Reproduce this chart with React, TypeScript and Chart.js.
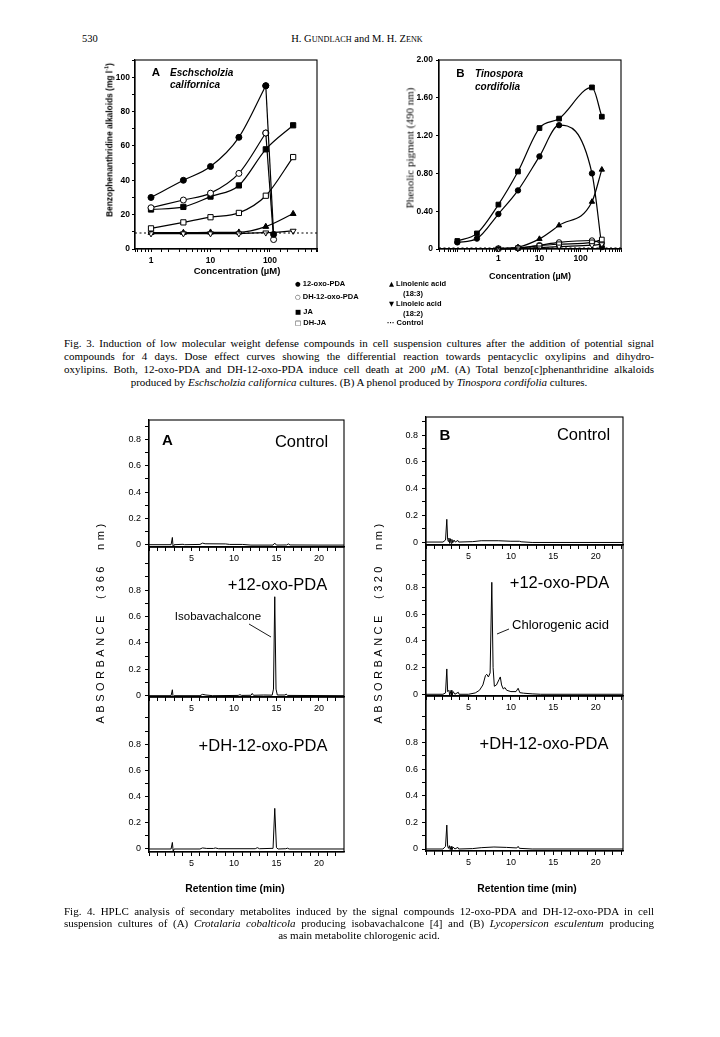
import React, { useEffect, useRef } from "react";
import { Chart, registerables } from "chart.js";

Chart.register(...registerables);

const SANS = "'Liberation Sans', Arial, Helvetica, sans-serif";
const SERIF = "'Liberation Serif', 'Times New Roman', Times, serif";

// ---------- Fig. 3A : Eschscholzia californica (mg/l alkaloids) ----------
const concA_short = [1, 3.5, 10, 30, 85, 115];
const concA_long = [1, 3.5, 10, 30, 85, 245];
const a_oxoPDA = [30, 40, 48, 65, 95, 8.5];
const a_dhOxoPDA = [24, 28.5, 32.5, 44, 67.5, 5.5];
const a_JA = [23, 24.5, 30.5, 37, 58, 72];
const a_dhJA = [12, 15.5, 18.5, 21, 31, 53.5];
const a_linolenic = [9.5, 9.5, 9.7, 9.7, 13, 20.5];
const a_linoleic = [9, 9, 9, 9, 9.5, 10.5];
const a_control = 9.3;

// ---------- Fig. 3B : Tinospora cordifolia (phenolic pigment, 490 nm) ----------
const concB_full = [0.1, 0.3, 1, 3, 10, 30, 190, 330];
const concB_short = [1, 3, 10, 30, 190, 330];
const b_oxoPDA = [0.07, 0.11, 0.37, 0.62, 0.98, 1.31, 0.8, 0.02];
const b_JA = [0.085, 0.165, 0.47, 0.82, 1.28, 1.38, 1.71, 1.4];
const b_linolenic = [0.005, 0.02, 0.107, 0.25, 0.5, 0.84];
const b_dhOxoPDA = [0.005, 0.01, 0.04, 0.07, 0.09, 0.06];
const b_dhJA = [0.003, 0.01, 0.035, 0.05, 0.07, 0.1];
const b_linoleic = [0, 0.005, 0.015, 0.025, 0.04, 0.05];
const b_control = 0.01;

// ---------- tick labels ----------
const logTickLabels = [1, 10, 100];
const aYTickLabels = [0, 20, 40, 60, 80, 100];
const bYTickLabels = [0, 0.4, 0.8, 1.2, 1.6, 2.0];
const hplcXTickLabels = [5, 10, 15, 20];
const hplcYTickLabels = [0, 0.2, 0.4, 0.6, 0.8];

// ---------- Fig. 4 chromatograms: [retention time (min), absorbance] ----------
const hplcA_control = [
  [0, 0], [2.6, 0], [2.75, 0.055], [2.85, -0.03], [2.95, 0], [4.0, 0.003], [4.2, 0],
  [6.0, 0.002], [6.3, 0.012], [6.6, 0.007], [9.0, 0.006], [9.5, 0.002], [11, 0.002],
  [12, -0.003], [14.6, -0.003], [14.8, 0.012], [15.0, -0.003], [16.2, -0.002],
  [16.4, 0.006], [16.6, -0.002], [20, -0.003], [23, -0.003],
];
const hplcA_oxoPDA = [
  [0, 0], [2.6, 0], [2.75, 0.045], [2.85, -0.02], [2.95, 0], [6.0, 0], [6.3, 0.01],
  [6.7, 0.005], [7.5, 0], [10.5, 0.002], [10.7, 0.008], [10.9, 0.002], [12.0, 0.003],
  [12.15, 0.017], [12.3, 0.003], [13.5, 0.005], [14.5, 0.004], [14.65, 0.05],
  [14.8, 0.75], [14.95, 0.05], [15.1, 0.005], [16, 0.005], [16.15, 0.012],
  [16.3, 0.002], [23, 0],
];
const hplcA_dhOxoPDA = [
  [0, 0], [2.6, 0], [2.75, 0.05], [2.85, -0.02], [2.95, 0], [6.0, 0], [6.3, 0.008],
  [6.8, 0.004], [7.6, 0.004], [7.8, 0.008], [8.2, 0.002], [12.5, 0.002], [12.75, 0.01],
  [13, 0.002], [14.6, 0.005], [14.8, 0.31], [15.0, 0.01], [15.2, 0], [16.1, 0.002],
  [16.3, 0.006], [16.5, 0], [23, 0],
];
const hplcB_control = [
  [0, 0], [2.0, 0], [2.3, 0.015], [2.45, 0.17], [2.55, 0.02], [2.62, 0.005], [2.7, 0.03],
  [2.78, -0.01], [2.88, 0.025], [2.96, -0.01], [3.05, 0.02], [3.15, -0.005], [3.3, 0.015],
  [3.45, 0], [3.75, 0.012], [3.85, 0], [5.5, 0.003], [6.5, 0.01], [8.5, 0.01],
  [10, 0.006], [11, 0.006], [11.2, 0.002], [12.5, -0.003], [23.2, -0.003],
];
const hplcB_oxoPDA = [
  [0, 0], [2.0, 0], [2.3, 0.01], [2.45, 0.19], [2.55, 0.02], [2.7, 0.03], [2.8, -0.01],
  [2.95, 0.03], [3.05, -0.01], [3.2, 0.02], [3.4, 0], [3.8, 0.015], [3.9, 0], [5.0, 0],
  [5.8, 0.01], [6.3, 0.03], [6.7, 0.07], [7.0, 0.14], [7.15, 0.15], [7.35, 0.13],
  [7.55, 0.16], [7.75, 0.84], [7.9, 0.2], [8.05, 0.06], [8.3, 0.07], [8.6, 0.11],
  [8.75, 0.13], [8.9, 0.07], [9.1, 0.04], [9.3, 0.05], [9.5, 0.03], [10.0, 0.02],
  [10.6, 0.02], [10.85, 0.045], [11.05, 0.012], [11.5, 0.008], [12.5, 0.003],
  [13.5, 0], [23.2, 0],
];
const hplcB_dhOxoPDA = [
  [0, 0], [2.0, 0], [2.3, 0.02], [2.45, 0.18], [2.55, 0.02], [2.65, 0.005], [2.75, 0.025],
  [2.85, -0.005], [2.95, 0.02], [3.05, -0.005], [3.2, 0.015], [3.4, 0], [3.75, 0.012],
  [3.85, 0], [5.5, 0.003], [6.5, 0.01], [8, 0.015], [9.5, 0.012], [10.7, 0.008],
  [10.85, 0.02], [11.0, 0.005], [12.5, 0], [23.2, 0],
];

// ---------- helpers ----------
const findLabel = (v: number, list: number[]) =>
  list.find((L) => Math.abs(v - L) < 1e-6 * Math.max(1, Math.abs(L)));

const framePlugin = {
  id: "frame",
  afterDatasetsDraw(chart: any) {
    const { ctx, chartArea: a } = chart;
    ctx.save();
    ctx.strokeStyle = "#000";
    ctx.lineWidth = 1.1;
    ctx.strokeRect(a.left, a.top, a.right - a.left, a.bottom - a.top);
    ctx.restore();
  },
};

const MARK: any = {
  filledCircle: { pointStyle: "circle", pointRadius: 3, pointBackgroundColor: "#000" },
  openCircle: { pointStyle: "circle", pointRadius: 3, pointBackgroundColor: "#fff" },
  filledSquare: { pointStyle: "rect", pointRadius: 3.7, pointBackgroundColor: "#000" },
  openSquare: { pointStyle: "rect", pointRadius: 3.7, pointBackgroundColor: "#fff" },
  filledTri: { pointStyle: "triangle", pointRadius: 3.4, pointBackgroundColor: "#000" },
  openTriDown: { pointStyle: "triangle", pointRadius: 3.4, pointBackgroundColor: "#fff", pointRotation: 180 },
};

function curveSets(xs: number[], ys: number[], mark: any, straightLast: boolean, scale = 1) {
  const pts = xs.map((x, i) => ({ x, y: ys[i] }));
  const base = {
    borderColor: "#000",
    borderWidth: 1.2,
    pointBorderColor: "#000",
    pointBorderWidth: 1,
    fill: false,
    clip: false,
    ...mark,
    pointRadius: mark.pointRadius * scale,
  };
  if (!straightLast) return [{ ...base, data: pts, cubicInterpolationMode: "monotone" }];
  return [
    { ...base, data: pts.slice(-2), tension: 0 },
    { ...base, data: pts.slice(0, -1), cubicInterpolationMode: "monotone" },
  ];
}

function controlSet(xMin: number, xMax: number, value: number) {
  return {
    data: [{ x: xMin, y: value }, { x: xMax, y: value }],
    borderColor: "#000",
    borderWidth: 1.2,
    borderDash: [2, 2.5],
    pointRadius: 0,
    fill: false,
    clip: false,
  };
}

const blackGrid = (len: number) => ({
  drawOnChartArea: false,
  drawTicks: true,
  tickLength: len,
  tickColor: "#000",
  color: "#000",
});

const A_X = { min: 0.538, max: 617 };
const B_X = { min: 0.0358, max: 967 };

function fig3AConfig() {
  return {
    type: "line",
    data: {
      datasets: [
        ...curveSets(concA_short, a_oxoPDA, MARK.filledCircle, true),
        ...curveSets(concA_short, a_dhOxoPDA, MARK.openCircle, true),
        ...curveSets(concA_long, a_JA, MARK.filledSquare, false),
        ...curveSets(concA_long, a_dhJA, MARK.openSquare, false),
        controlSet(A_X.min, A_X.max, a_control),
        ...curveSets(concA_long, a_linoleic, MARK.openTriDown, false),
        ...curveSets(concA_long, a_linolenic, MARK.filledTri, false),
      ],
    },
    options: {
      animation: false,
      responsive: false,
      events: [],
      plugins: { legend: { display: false }, tooltip: { enabled: false } },
      scales: {
        x: {
          type: "logarithmic",
          min: A_X.min,
          max: A_X.max,
          ticks: {
            autoSkip: false,
            maxRotation: 0,
            padding: 4,
            color: "#000",
            font: { family: SANS, size: 8.5, weight: "bold" },
            callback: (v: number) => {
              const m = findLabel(v, logTickLabels);
              return m === undefined ? "" : String(m);
            },
          },
          grid: blackGrid(3),
          border: { color: "#000", width: 1.2 },
        },
        y: {
          type: "linear",
          min: 0,
          max: 110,
          ticks: {
            stepSize: 10,
            autoSkip: false,
            padding: 2,
            color: "#000",
            font: { family: SANS, size: 8.5, weight: "bold" },
            callback: (v: number) => {
              const m = findLabel(v, aYTickLabels);
              return m === undefined ? "" : String(m);
            },
          },
          grid: blackGrid(3),
          border: { color: "#000", width: 1.2 },
        },
      },
    },
    plugins: [framePlugin],
  };
}

function fig3BConfig() {
  const s = 0.9;
  return {
    type: "line",
    data: {
      datasets: [
        controlSet(B_X.min, B_X.max, b_control),
        ...curveSets(concB_short, b_linoleic, MARK.openTriDown, false, s),
        ...curveSets(concB_short, b_dhJA, MARK.openSquare, false, s),
        ...curveSets(concB_short, b_dhOxoPDA, MARK.openCircle, false, s),
        ...curveSets(concB_short, b_linolenic, MARK.filledTri, false, s),
        ...curveSets(concB_full, b_oxoPDA, MARK.filledCircle, false, s),
        ...curveSets(concB_full, b_JA, MARK.filledSquare, false, s),
      ],
    },
    options: {
      animation: false,
      responsive: false,
      events: [],
      plugins: { legend: { display: false }, tooltip: { enabled: false } },
      scales: {
        x: {
          type: "logarithmic",
          min: B_X.min,
          max: B_X.max,
          ticks: {
            autoSkip: false,
            maxRotation: 0,
            padding: 2,
            color: "#000",
            font: { family: SANS, size: 8.5, weight: "bold" },
            callback: (v: number) => {
              const m = findLabel(v, logTickLabels);
              return m === undefined ? "" : String(m);
            },
          },
          grid: blackGrid(3),
          border: { color: "#000", width: 1.2 },
        },
        y: {
          type: "linear",
          min: 0,
          max: 2,
          ticks: {
            stepSize: 0.4,
            autoSkip: false,
            padding: 3,
            color: "#000",
            font: { family: SANS, size: 8.5, weight: "bold" },
            callback: (v: number) => {
              const m = findLabel(v, bYTickLabels);
              return m === undefined ? "" : m === 0 ? "0" : m.toFixed(2);
            },
          },
          grid: blackGrid(3),
          border: { color: "#000", width: 1.2 },
        },
      },
    },
    plugins: [framePlugin],
  };
}

function hplcConfig(trace: number[][], yMin: number, yMax: number, xMax: number) {
  return () => ({
    type: "line",
    data: {
      datasets: [
        {
          data: trace.map(([x, y]) => ({ x, y })),
          borderColor: "#000",
          borderWidth: 1,
          pointRadius: 0,
          tension: 0,
          fill: false,
        },
      ],
    },
    options: {
      animation: false,
      responsive: false,
      events: [],
      plugins: { legend: { display: false }, tooltip: { enabled: false } },
      scales: {
        x: {
          type: "linear",
          min: 0,
          max: xMax,
          ticks: {
            stepSize: 1,
            autoSkip: false,
            includeBounds: false,
            maxRotation: 0,
            padding: 2,
            color: "#000",
            font: { family: SANS, size: 9 },
            callback: (v: number) => {
              const m = findLabel(v, hplcXTickLabels);
              return m === undefined ? "" : String(m);
            },
          },
          grid: {
            drawOnChartArea: false,
            tickLength: 4,
            tickColor: (ctx: any) => {
              const v = ctx.tick ? ctx.tick.value : 0;
              return Math.abs(v - Math.round(v)) < 1e-6 ? "#000" : "rgba(0,0,0,0)";
            },
          },
          border: { color: "#000", width: 1.2 },
        },
        y: {
          type: "linear",
          min: yMin,
          max: yMax,
          ticks: {
            stepSize: 0.1,
            autoSkip: false,
            includeBounds: false,
            padding: 4,
            color: "#000",
            font: { family: SANS, size: 9 },
            callback: (v: number) => {
              const m = findLabel(v, hplcYTickLabels);
              return m === undefined ? "" : m === 0 ? "0" : m.toFixed(1);
            },
          },
          grid: {
            drawOnChartArea: false,
            tickLength: 4,
            tickColor: (ctx: any) => {
              const v = ctx.tick ? ctx.tick.value : -1;
              const ok = v > -1e-6 && v < 1.05 && Math.abs(v * 10 - Math.round(v * 10)) < 1e-6;
              return ok ? "#000" : "rgba(0,0,0,0)";
            },
          },
          border: { color: "#000", width: 1.2 },
        },
      },
    },
    plugins: [framePlugin],
  });
}

type Box = { x: number; y: number; w: number; h: number };
type Plot = { left: number; top: number; right: number; bottom: number };

function ChartPanel({ box, plot, config }: { box: Box; plot: Plot; config: () => any }) {
  const ref = useRef<HTMLCanvasElement | null>(null);
  useEffect(() => {
    if (!ref.current) return;
    const cfg = config();
    const yW = plot.left - box.x;
    const xH = box.y + box.h - plot.bottom;
    cfg.options.layout = {
      padding: { top: plot.top - box.y, right: box.x + box.w - plot.right, bottom: 0, left: 0 },
    };
    const zero = (s: any) => {
      s.paddingLeft = 0;
      s.paddingRight = 0;
      s.paddingTop = 0;
      s.paddingBottom = 0;
    };
    cfg.options.scales.x.afterFit = (s: any) => {
      s.height = xH;
      zero(s);
    };
    cfg.options.scales.y.afterFit = (s: any) => {
      s.width = yW;
      zero(s);
    };
    const chart = new Chart(ref.current, cfg);
    return () => chart.destroy();
  }, []);
  return (
    <canvas
      ref={ref}
      width={box.w}
      height={box.h}
      style={{ position: "absolute", left: box.x, top: box.y, width: box.w, height: box.h }}
    />
  );
}

function Txt({
  x, y, children, size = 10, weight = 400, family = SANS, italic = false,
  align = "center", rotate = 0, extra = {},
}: any) {
  const tx = align === "center" ? "-50%" : align === "right" ? "-100%" : "0";
  return (
    <div
      style={{
        position: "absolute",
        left: x,
        top: y,
        transform: `translate(${tx},-50%)` + (rotate ? ` rotate(${rotate}deg)` : ""),
        fontFamily: family,
        fontSize: size,
        fontWeight: weight,
        fontStyle: italic ? "italic" : "normal",
        lineHeight: 1,
        whiteSpace: "pre",
        color: "#000",
        ...extra,
      }}
    >
      {children}
    </div>
  );
}

function CapLine({ y, children, center = false }: any) {
  return (
    <div
      style={{
        position: "absolute",
        left: 64,
        width: 590,
        top: y,
        transform: "translateY(-50%)",
        fontFamily: SERIF,
        fontSize: 11,
        lineHeight: 1,
        whiteSpace: "nowrap",
        textAlign: center ? "center" : "justify",
        textAlignLast: center ? "center" : "justify",
        color: "#000",
      }}
    >
      {children}
    </div>
  );
}

// HPLC panel geometry (page pixels)
const colA = { left: 149, right: 344, xMax: 22.95, boxX: 105, boxW: 250 };
const colB = { left: 426, right: 623, xMax: 23.2, boxX: 382, boxW: 252 };
const hplcPanels = [
  { col: colA, top: 420, bottom: 547, yMin: -0.0175, yMax: 0.948, trace: hplcA_control },
  { col: colA, top: 547, bottom: 697, yMin: -0.01, yMax: 1.127, trace: hplcA_oxoPDA },
  { col: colA, top: 697, bottom: 852, yMin: -0.023, yMax: 1.16, trace: hplcA_dhOxoPDA },
  { col: colB, top: 417, bottom: 545, yMin: -0.022, yMax: 0.935, trace: hplcB_control },
  { col: colB, top: 545, bottom: 696, yMin: -0.013, yMax: 1.12, trace: hplcB_oxoPDA },
  { col: colB, top: 696, bottom: 851, yMin: -0.015, yMax: 1.151, trace: hplcB_dhOxoPDA },
];

export default function App() {
  const sym = { fontFamily: "'DejaVu Sans', sans-serif", fontSize: 6.5 };
  return (
    <div
      style={{
        position: "absolute",
        left: 0,
        top: 0,
        width: 720,
        height: 1037,
        background: "#fff",
        overflow: "hidden",
      }}
    >
      {/* header */}
      <Txt x={82} y={39} size={10.5} family={SERIF} align="left">530</Txt>
      <Txt x={357} y={39} size={10.5} family={SERIF}>
        H. G<span style={{ fontSize: "0.78em" }}>UNDLACH</span> and M. H. Z<span style={{ fontSize: "0.78em" }}>ENK</span>
      </Txt>

      {/* Fig. 3 charts */}
      <ChartPanel box={{ x: 95, y: 50, w: 235, h: 225 }} plot={{ left: 135, top: 60, right: 317, bottom: 249 }} config={fig3AConfig} />
      <ChartPanel box={{ x: 395, y: 50, w: 240, h: 215 }} plot={{ left: 439, top: 60, right: 621, bottom: 249 }} config={fig3BConfig} />

      <Txt x={156} y={73} size={11.5} weight={700}>A</Txt>
      <Txt x={170} y={73} size={10} weight={700} italic align="left">Eschscholzia</Txt>
      <Txt x={170} y={85} size={10} weight={700} italic align="left">californica</Txt>
      <Txt x={460.5} y={74} size={11.5} weight={700}>B</Txt>
      <Txt x={475} y={74} size={10} weight={700} italic align="left">Tinospora</Txt>
      <Txt x={475} y={87} size={10} weight={700} italic align="left">cordifolia</Txt>

      <Txt x={109} y={140} size={8.4} weight={700} rotate={-90}>
        Benzophenanthridine alkaloids (mg l<sup style={{ fontSize: "0.65em" }}>-1</sup>)
      </Txt>
      <Txt x={410} y={148} size={11} family={SERIF} rotate={-90}>Phenolic pigment (490 nm)</Txt>
      <Txt x={237} y={271} size={9.5} weight={700}>Concentration (µM)</Txt>
      <Txt x={530} y={276} size={9} weight={700}>Concentration (µM)</Txt>

      {/* Fig. 3 legend */}
      <Txt x={295} y={284} size={7.5} weight={700} align="left"><span style={sym}>●</span> 12-oxo-PDA</Txt>
      <Txt x={295} y={296.5} size={7.5} weight={700} align="left"><span style={sym}>○</span> DH-12-oxo-PDA</Txt>
      <Txt x={295} y={312} size={7.5} weight={700} align="left"><span style={sym}>■</span> JA</Txt>
      <Txt x={295} y={322.5} size={7.5} weight={700} align="left"><span style={sym}>□</span> DH-JA</Txt>
      <Txt x={389} y={284} size={7.5} weight={700} align="left"><span style={sym}>▲</span> Linolenic acid</Txt>
      <Txt x={413} y={293.5} size={7.5} weight={700}>(18:3)</Txt>
      <Txt x={389} y={304} size={7.5} weight={700} align="left"><span style={sym}>▼</span> Linoleic acid</Txt>
      <Txt x={413} y={313.5} size={7.5} weight={700}>(18:2)</Txt>
      <Txt x={387} y={322.5} size={7.5} weight={700} align="left">··· Control</Txt>

      {/* Fig. 3 caption */}
      <CapLine y={343}>
        Fig. 3. Induction of low molecular weight defense compounds in cell suspension cultures after the addition of potential signal
      </CapLine>
      <CapLine y={356}>
        compounds for 4 days. Dose effect curves showing the differential reaction towards pentacyclic oxylipins and dihydro-
      </CapLine>
      <CapLine y={369}>
        oxylipins. Both, 12-oxo-PDA and DH-12-oxo-PDA induce cell death at 200 <i>μ</i>M. (A) Total benzo[c]phenanthridine alkaloids
      </CapLine>
      <CapLine y={382} center>
        produced by <i>Eschscholzia californica</i> cultures. (B) A phenol produced by <i>Tinospora cordifolia</i> cultures.
      </CapLine>

      {/* Fig. 4 charts */}
      {hplcPanels.map((p, i) => (
        <ChartPanel
          key={i}
          box={{ x: p.col.boxX, y: p.top - 10, w: p.col.boxW, h: p.bottom + 18 - (p.top - 10) }}
          plot={{ left: p.col.left, top: p.top, right: p.col.right, bottom: p.bottom }}
          config={hplcConfig(p.trace, p.yMin, p.yMax, p.col.xMax)}
        />
      ))}

      <Txt x={167.5} y={439} size={15} weight={700}>A</Txt>
      <Txt x={301.5} y={441} size={16.5}>Control</Txt>
      <Txt x={445} y={433.5} size={15} weight={700}>B</Txt>
      <Txt x={583.5} y={434} size={16.5}>Control</Txt>
      <Txt x={277.5} y={583.5} size={16.5}>+12-oxo-PDA</Txt>
      <Txt x={559.5} y={582} size={16.5}>+12-oxo-PDA</Txt>
      <Txt x={263} y={745} size={16.5}>+DH-12-oxo-PDA</Txt>
      <Txt x={544} y={742.5} size={16.5}>+DH-12-oxo-PDA</Txt>
      <Txt x={218} y={617} size={11.5}>Isobavachalcone</Txt>
      <Txt x={560.5} y={624} size={13}>Chlorogenic acid</Txt>
      <svg width={720} height={1037} style={{ position: "absolute", left: 0, top: 0, pointerEvents: "none" }}>
        <line x1={249} y1={624} x2={271} y2={637} stroke="#000" strokeWidth={0.9} />
        <line x1={509} y1={629} x2={497} y2={634} stroke="#000" strokeWidth={0.9} />
      </svg>

      <Txt x={100} y={622} size={11} rotate={-90} extra={{ letterSpacing: "3.5px" }}>ABSORBANCE  (366  nm)</Txt>
      <Txt x={378} y={622} size={11} rotate={-90} extra={{ letterSpacing: "3.5px" }}>ABSORBANCE  (320  nm)</Txt>

      <Txt x={235} y={888.5} size={10.3} weight={700}>Retention time (min)</Txt>
      <Txt x={527} y={888.5} size={10.3} weight={700}>Retention time (min)</Txt>

      {/* Fig. 4 caption */}
      <CapLine y={910.5}>
        Fig. 4. HPLC analysis of secondary metabolites induced by the signal compounds 12-oxo-PDA and DH-12-oxo-PDA in cell
      </CapLine>
      <CapLine y={923}>
        suspension cultures of (A) <i>Crotalaria cobalticola</i> producing isobavachalcone [4] and (B) <i>Lycopersicon esculentum</i> producing
      </CapLine>
      <CapLine y={935} center>
        as main metabolite chlorogenic acid.
      </CapLine>
    </div>
  );
}
